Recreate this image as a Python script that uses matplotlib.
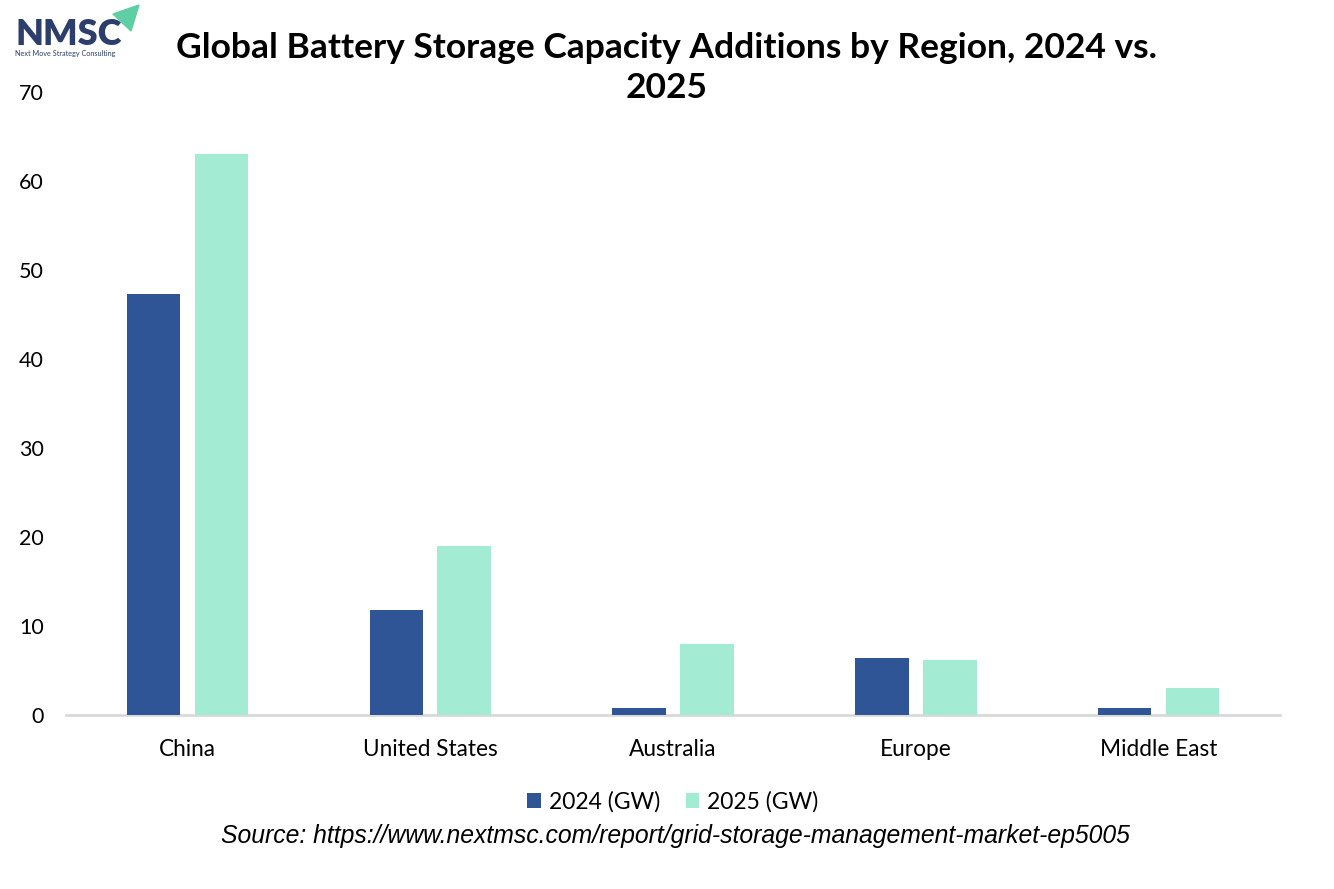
import matplotlib
matplotlib.use("Agg")
import matplotlib.pyplot as plt
from matplotlib.patches import Polygon
import numpy as np

regions = ["China", "United States", "Australia", "Europe", "Middle East"]
gw_2024 = [47.3, 11.8, 0.8, 6.4, 0.8]
gw_2025 = [63.0, 19.0, 8.0, 6.2, 3.0]
series_labels = ["2024 (GW)", "2025 (GW)"]
yticks = [0, 10, 20, 30, 40, 50, 60, 70]

title = "Global Battery Storage Capacity Additions by Region, 2024 vs.\n2025"
source = "Source: https://www.nextmsc.com/report/grid-storage-management-market-ep5005"

c2024 = "#2F5597"
c2025 = "#A3EBD2"

fig = plt.figure(figsize=(13.34, 8.89), dpi=100)
ax = fig.add_axes([66/1334, 1-715/889, (1280-66)/1334, (715-92)/889])

x = np.arange(len(regions))
w = 0.22
b1 = ax.bar(x - 0.14, gw_2024, width=w, color=c2024, label=series_labels[0], zorder=3)
b2 = ax.bar(x + 0.14, gw_2025, width=w, color=c2025, label=series_labels[1], zorder=3)

ax.set_xlim(-0.5, len(regions) - 0.5)
ax.set_ylim(0, 70)
ax.set_yticks(yticks)
ax.set_xticks(x)
ax.set_xticklabels(regions)
for s in ["top", "right", "left"]:
    ax.spines[s].set_visible(False)
ax.spines["bottom"].set_color("#D9D9D9")
ax.spines["bottom"].set_linewidth(2)
ax.tick_params(axis="y", length=0, labelsize=15.5, labelcolor="#000000", pad=16)
ax.tick_params(axis="x", length=0, labelsize=16.3, labelcolor="#000000", pad=17)
for lab in ax.get_xticklabels() + ax.get_yticklabels():
    lab.set_fontfamily("Lato")

fig.text(0.5, 1-98/889, title, ha="center", va="baseline", fontsize=25.5,
         fontweight="bold", family="Lato", linespacing=1.3)

leg = fig.legend(handles=[b1, b2], labels=series_labels, loc="center",
                 bbox_to_anchor=(673/1334, 1-802/889), ncol=2, frameon=False,
                 prop={"family": "Lato", "size": 16.5},
                 handlelength=0.6, handleheight=0.6, handletextpad=0.35,
                 columnspacing=1.1)

fig.text(675/1334, 1-836/889, source, ha="center", va="center", fontsize=17.8,
         style="italic", family="Liberation Sans")

# logo
fig.text(15/1334, 1-45/889, "NMSC", ha="left", va="baseline", fontsize=26,
         fontweight="heavy", family="Lato", color="#2C3E6B")
fig.text(15/1334, 1-56/889, "Next Move Strategy Consulting", ha="left",
         va="baseline", fontsize=5.2, family="Lato", color="#2C3E6B")
tri = Polygon([(113/1334, 1-14/889), (139/1334, 1-5/889), (131/1334, 1-31/889)],
              closed=True, transform=fig.transFigure, color="#5ECFA4", zorder=5)
fig.patches.append(tri)

fig.savefig("out.png", dpi=100)
